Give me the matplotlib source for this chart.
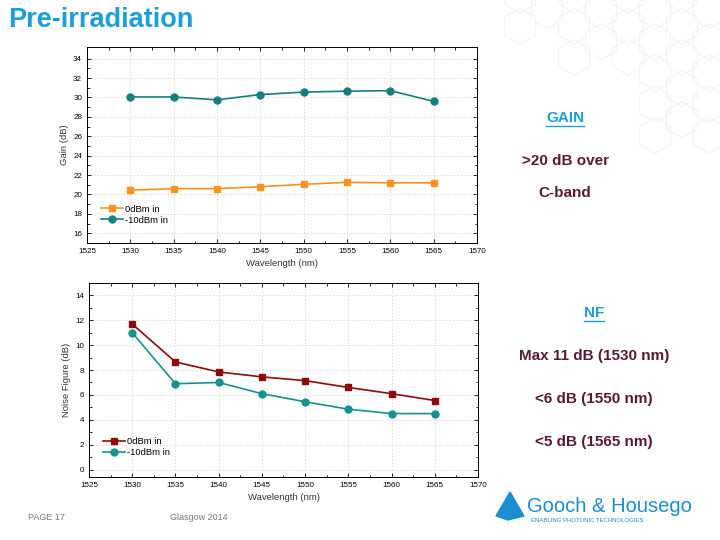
import numpy as np
import matplotlib.pyplot as plt
from matplotlib.patches import RegularPolygon, Polygon

# ---------------- data ----------------
wavelength = [1530, 1535, 1540, 1545, 1550, 1555, 1560, 1565]
gain_0dbm = [20.45, 20.6, 20.6, 20.8, 21.05, 21.25, 21.2, 21.2]
gain_m10dbm = [30.05, 30.05, 29.75, 30.3, 30.55, 30.65, 30.7, 29.6]
nf_0dbm = [11.7, 8.65, 7.85, 7.45, 7.15, 6.6, 6.1, 5.55]
nf_m10dbm = [11.0, 6.9, 7.0, 6.1, 5.45, 4.85, 4.5, 4.5]

blue = '#1b9fd8'
maroon = '#5a1a36'
orange = '#f7931e'
teal = '#167f7d'
teal2 = '#179190'
darkred = '#8b0a0a'

plt.rcParams['font.family'] = ['Liberation Sans', 'DejaVu Sans']

fig = plt.figure(figsize=(7.2, 5.4), dpi=100)

# background hexagon decoration (top right)
deco = fig.add_axes([0, 0, 1, 1], zorder=-5)
deco.set_xlim(0, 720)
deco.set_ylim(540, 0)
deco.axis('off')
r = 18
for row in range(6):
    for col in range(8):
        cx = 520 + col * r * 1.5
        cy = -5 + row * r * np.sqrt(3) + (col % 2) * r * np.sqrt(3) / 2
        if cx < 560 and cy > 40:
            continue
        if cy > 60 and cx < 640:
            continue
        if cy > 150:
            continue
        deco.add_patch(RegularPolygon((cx, cy), 6, radius=r, orientation=np.pi / 3,
                                      fill=False, ec='#f2f2f2', lw=0.7))


def style_axes(ax):
    ax.set_xlim(1525, 1570)
    ax.set_xticks(np.arange(1525, 1571, 5))
    ax.set_xticks(np.arange(1525, 1571, 2.5), minor=True)
    ax.grid(True, which='major', color='#d9d9d9', ls=(0, (2, 2)), lw=0.6)
    ax.tick_params(which='both', direction='in', top=True, right=True, labelsize=5.8, width=0.6)
    ax.tick_params(which='major', length=3)
    ax.tick_params(which='minor', length=1.8)
    for s in ax.spines.values():
        s.set_linewidth(0.7)
    ax.set_xlabel('Wavelength (nm)', fontsize=6.8, color='#333333', labelpad=3)


# ---------------- gain chart ----------------
ax1 = fig.add_axes([87 / 720, 1 - 243 / 540, 390 / 720, 196 / 540])
ax1.plot(wavelength, gain_0dbm, '-s', color=orange, ms=4.5, lw=1.2, label='0dBm in')
ax1.plot(wavelength, gain_m10dbm, '-o', color=teal, ms=5, lw=1.2, label='-10dBm in')
ax1.set_ylim(15, 35.2)
ax1.set_yticks(np.arange(16, 35, 2))
ax1.set_yticks(np.arange(15, 35, 1), minor=True)
style_axes(ax1)
ax1.set_ylabel('Gain (dB)', fontsize=6.8, color='#333333', labelpad=3)
ax1.legend(loc='lower left', bbox_to_anchor=(0.02, 0.06), frameon=False, fontsize=6.8,
           handlelength=2.3, handletextpad=0.2, labelspacing=0.2, borderpad=0.2)

# ---------------- noise figure chart ----------------
ax2 = fig.add_axes([89 / 720, 1 - 477 / 540, 389 / 720, 194 / 540])
ax2.plot(wavelength, nf_0dbm, '-s', color=darkred, ms=4.5, lw=1.2, label='0dBm in')
ax2.plot(wavelength, nf_m10dbm, '-o', color=teal2, ms=5, lw=1.2, label='-10dBm in')
ax2.set_ylim(-0.6, 15)
ax2.set_yticks(np.arange(0, 15, 2))
ax2.set_yticks(np.arange(0, 15, 1), minor=True)
style_axes(ax2)
ax2.set_ylabel('Noise Figure (dB)', fontsize=6.8, color='#333333', labelpad=3)
ax2.legend(loc='lower left', bbox_to_anchor=(0.02, 0.07), frameon=False, fontsize=6.8,
           handlelength=2.3, handletextpad=0.2, labelspacing=0.2, borderpad=0.2)

# ---------------- slide text ----------------
fig.text(8 / 720, 1 - 20 / 540, 'Pre-irradiation', color=blue, fontsize=19.5, fontweight='bold',
         va='center', ha='left')

def note(x, y, s, color=maroon, underline=False):
    t = fig.text(x / 720, 1 - y / 540, s, color=color, fontsize=11, fontweight='bold',
                 ha='center', va='center')
    if underline:
        fig.canvas.draw()
        bb = t.get_window_extent()
        fig.add_artist(plt.Line2D([bb.x0 / 720, bb.x1 / 720],
                                  [(bb.y0 - 1) / 540, (bb.y0 - 1) / 540], color=color, lw=1))

note(565, 118, 'GAIN', blue, underline=True)
note(565, 161, '>20 dB over')
note(565, 193, 'C-band')
note(594, 313, 'NF', blue, underline=True)
note(594, 356, 'Max 11 dB (1530 nm)')
note(594, 399, '<6 dB (1550 nm)')
note(594, 442, '<5 dB (1565 nm)')

fig.text(28 / 720, 1 - 518 / 540, 'PAGE 17', color='#777777', fontsize=6.5, va='center')
fig.text(170 / 720, 1 - 518 / 540, 'Glasgow 2014', color='#777777', fontsize=6.5, va='center')

# logo
deco.add_patch(Polygon([[510, 492], [496, 516], [508, 520], [524, 516]], closed=True,
                       fc='#1a8fd0', ec='#1a8fd0'))
fig.text(527 / 720, 1 - 506 / 540, 'Gooch & Housego', color='#1a8fd0', fontsize=14.5,
         va='center', ha='left', family=['Liberation Sans Narrow', 'Liberation Sans'])
fig.text(531 / 720, 1 - 521 / 540, 'ENABLING PHOTONIC TECHNOLOGIES', color='#1a8fd0', fontsize=4.3,
         va='center', ha='left')

fig.savefig('out.png', dpi=100)
